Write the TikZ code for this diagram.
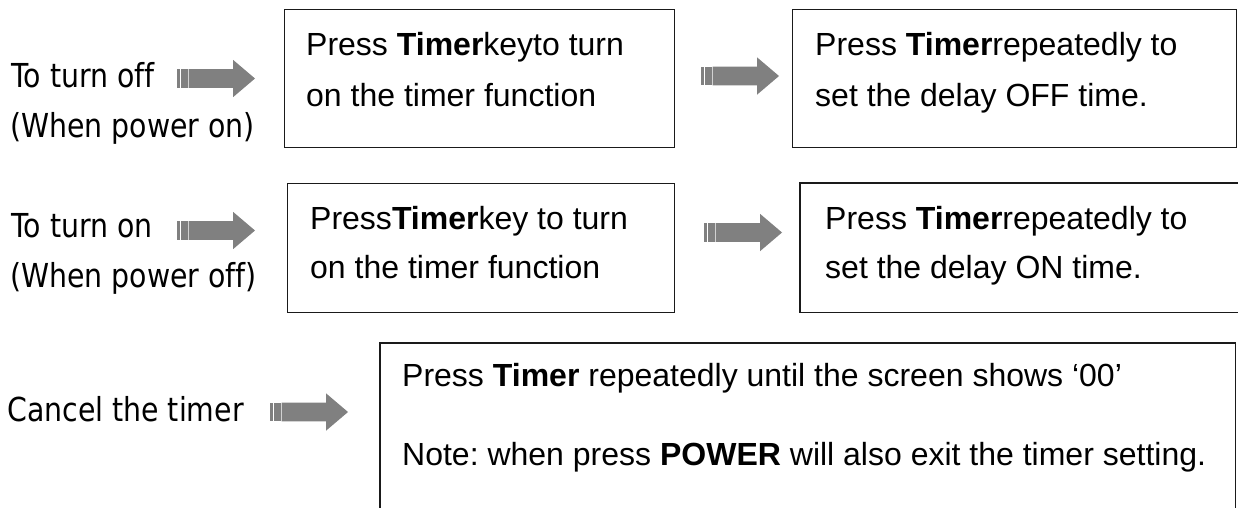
\documentclass[tikz,border=0pt]{standalone}
\usepackage{fontspec}
\setmainfont{Liberation Sans}
\newfontfamily\lefttxt[FakeStretch=0.86,Ligatures=NoCommon]{DejaVu Sans}
\definecolor{arrowgray}{HTML}{808080}
\definecolor{boxline}{HTML}{1A1A1A}
\tikzset{
  box/.style={draw=boxline, line width=1.4pt, rectangle, inner sep=0pt, anchor=north west},
  openbox/.style={rectangle, inner sep=0pt, anchor=north west},
  boxedge/.style={draw=boxline, line width=1.4pt},
  lt/.style={font=\lefttxt\fontsize{33}{39}\selectfont, anchor=base west, inner sep=0pt},
  bt/.style={font=\fontsize{32}{38}\selectfont, anchor=base west, inner sep=0pt},
}
\newcommand\stripearrow[2]{%
  \begin{scope}[shift={(#1,#2)}]
    \fill[arrowgray] (0,-9.3) rectangle (3.2,9.3);
    \fill[arrowgray] (4.2,-9.3) rectangle (10.6,9.3);
    \fill[arrowgray] (11.6,-9.3) -- (56,-9.3) -- (56,-18.7) -- (78,0) -- (56,18.7) -- (56,9.3) -- (11.6,9.3) -- cycle;
  \end{scope}}
\begin{document}
\frenchspacing
\begin{tikzpicture}[x=1pt,y=-1pt]
\useasboundingbox (0,0) rectangle (1238,507);
\fill[white] (0,0) rectangle (1238,507);

% boxes
\node[box, minimum width=390pt, minimum height=138pt] (b1) at (284,9) {};
\node[box, minimum width=387pt, minimum height=129pt] (b2) at (287,183) {};
\node[box, minimum width=444pt, minimum height=138pt] (r1) at (792,9) {};
\node[openbox, minimum width=445pt, minimum height=129pt] (r2) at (800,183) {};
\draw[boxedge] (r2.north east) -- (r2.north west) -- (r2.south west) -- (r2.south east);
\node[openbox, minimum width=855pt, minimum height=170pt] (b3) at (380,343) {};
\draw[boxedge] (b3.south west) -- (b3.north west) -- (b3.north east) -- (b3.south east);

% left labels
\node[lt] (l1a) at (11,87) {To turn off};
\node[lt] (l1b) at (10,137) {(When power on)};
\node[lt] (l2a) at (11,237) {To turn on};
\node[lt] (l2b) at (10,287) {(When power off)};
\node[lt] (l3) at (7,421) {Cancel the timer};

% box texts
\node[bt] (t1a) at (306,55) {Press \textbf{Timer}keyto turn};
\node[bt] (t1b) at (306,106) {on the timer function};
\node[bt] (t2a) at (310,229) {Press\textbf{Timer}key to turn};
\node[bt] (t2b) at (310,278) {on the timer function};
\node[bt] (t3a) at (815,55) {Press \textbf{Timer}repeatedly to};
\node[bt] (t3b) at (815,106) {set the delay OFF time.};
\node[bt] (t4a) at (825,229) {Press \textbf{Timer}repeatedly to};
\node[bt] (t4b) at (825,278) {set the delay ON time.};
\node[bt] (t5a) at (402,386) {Press \textbf{Timer} repeatedly until the screen shows ‘00’};
\node[bt] (t5b) at (402,465) {Note: when press \textbf{POWER} will also exit the timer setting.};

% striped block arrows
\stripearrow{177}{78.5}
\stripearrow{177}{230.5}
\stripearrow{270}{412}
\stripearrow{701}{76}
\stripearrow{704}{232.5}
\end{tikzpicture}
\end{document}
